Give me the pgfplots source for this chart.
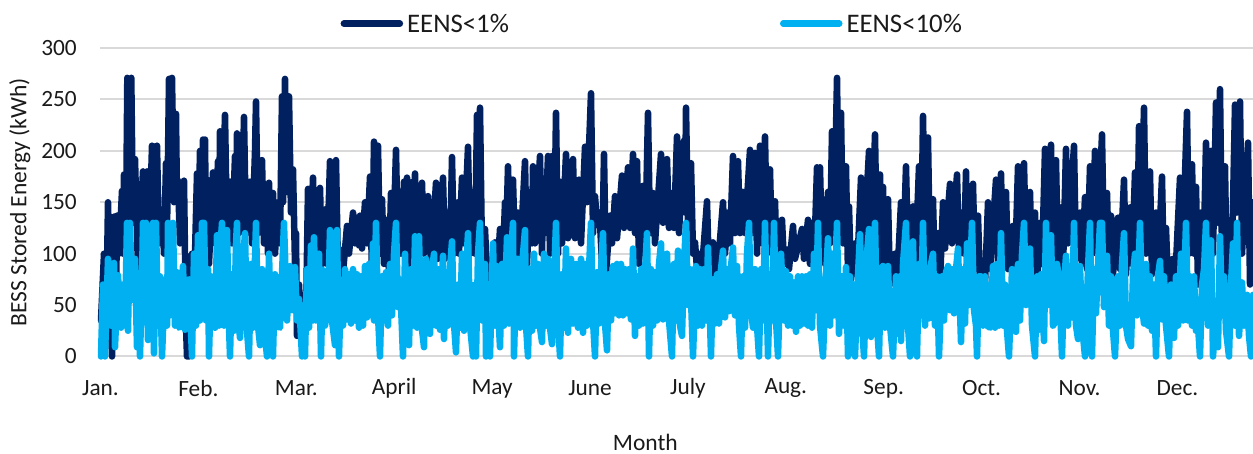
\documentclass[border=0pt]{standalone}
\usepackage{fontspec}
\setmainfont{Carlito}
\usepackage{pgfplots}
\pgfplotsset{compat=1.18}
\definecolor{navyline}{HTML}{002060}
\definecolor{skyline}{HTML}{00B0F0}
\definecolor{gridgray}{HTML}{D9D9D9}
\definecolor{labeltext}{HTML}{1A1A1A}

\begin{document}
\begin{tikzpicture}[x=1pt,y=1pt]
\useasboundingbox (0,0) rectangle (1253,454);
\begin{axis}[
    at={(100pt,97.5pt)}, anchor=south west,
    scale only axis, width=1153pt, height=308.5pt,
    clip=false,
    xmin=-1, xmax=1152, ymin=0, ymax=300,
    % x runs in steps of 1/97.9 of a month
    xtick={-0.5,97.4,195.3,293.2,391.1,489,586.9,684.8,782.7,880.6,978.5,1076.4},
    xticklabels={Jan.,Feb.,Mar.,April,May,June,July,Aug.,Sep.,Oct.,Nov.,Dec.},
    ytick={0,50,100,150,200,250,300},
    ymajorgrids=true,
    major grid style={line width=2pt,gridgray},
    axis line style={draw=none},
    major tick length=0pt,
    /pgf/number format/assume math mode=true,
    tick label style={font=\fontsize{23.3}{27}\selectfont,text=labeltext},
    xticklabel style={anchor=center,yshift=-32pt},
    yticklabel style={anchor=east,xshift=-23pt,inner sep=0pt},
    xlabel={Month},
    ylabel={BESS Stored Energy (kWh)},
    label style={font=\fontsize{23.5}{27}\selectfont,text=labeltext,inner sep=0pt},
    xlabel style={at={(axis description cs:0.473,-0.279)},anchor=center},
    ylabel style={at={(axis description cs:-0.0695,0.5)},anchor=center,rotate=0},
    legend columns=2,
    legend cell align=left,
    legend style={at={(axis description cs:0.479,1.079)},anchor=center,draw=none,fill=none,
        font=\fontsize{26.8}{30}\selectfont,text=labeltext,inner sep=0pt,
        /tikz/every even column/.append style={column sep=269pt}},
    legend image code/.code={\draw[line width=6.5pt,line cap=round,#1] (0pt,0pt)--(56pt,0pt);},
    every axis plot/.append style={line width=6.5pt,line join=round,line cap=round},
]
\addplot[navyline] coordinates {
(0,35)(3,100)(5,20)(7,150)(9,60)(11,0)(13,136)(15,50)(16,137)(18,100)(21,161)(22,100)(23,177)(25,120)
(26.3,271)(28,150)(30.3,271)(32,130)(34,192)(37,85)(42,180)(44,120)(46,180)(48,100)(51,205)(53,130)(56,205)(58,110)
(61,143)(63,100)(65,188)(66,120)(68,270)(70,180)(71,271)(73,150)(75,236)(76,150)(77,171)(79,110)(83,171)(85,30)(86,0)(88,0)
(91,100)(93,60)(96,178)(97,100)(99,200)(101,130)(102,211)(103,130)(104,211)(105,120)(106,172)(108,90)(112,179)(114,110)
(117,190)(118,120)(119,219)(121,120)(124,235)(126,120)(129,170)(131,110)(134,195)(135,120)(136,217)(138,120)(139,215)(141,140)
(143,233)(145,120)(149,170)(151,110)(154,200)(155,248)(157,120)(161,191)(163,110)(166,150)(167,100)(168,169)(170,110)(172,159)(174,100)
(177,150)(179,110)(181,253)(182,150)(184,270)(186,160)(188,253)(190,140)(192,182)(194,90)(195,120)(196,20)(198,70)(200,30)(203,60)(205,40)
(207,163)(209,90)(212,174)(214,100)(219,164)(221,90)(224,143)(226,90)(229,190)(231,100)(235,191)(237,85)(239,104)(241,70)
(246,127)(248,100)(252,140)(254,110)(256,135)(258,108)(259,137)(261,105)(264,150)(266,110)(269,175)(271,80)(273,209)(275,100)(277,205)(279,100)
(281,153)(283,90)(286,133)(288,80)(290,159)(292,100)(295,201)(297,100)(298,153)(300,100)(303,170)(304,100)(306,174)(308,90)(312,170)(313,100)(314,178)(316,100)
(321,169)(323,100)(327,156)(330,90)(335,169)(337,95)(342,174)(344,95)(347,140)(349,100)(351,194)(353,100)(357,150)(358,100)(361,174)(363,110)
(367,204)(369,100)(372,160)(374,100)(376,235)(378,120)(379,242)(381,100)(384,124)(387,59)(394,111)(396,75)(399,124)(401,70)(404,150)(405,110)(407,185)(409,110)
(412,172)(414,100)(417,140)(419,95)(424,190)(426,90)(429,160)(431,110)(432,185)(434,110)(439,195)(441,100)(442,150)(444,120)(447,195)(449,100)(451,195)(453,100)
(455,237)(457,100)(459,170)(461,110)(465,197)(467,115)(472,192)(474,115)(478,172)(480,110)(484,204)(486,150)(490,256)(492,120)(494,156)(496,130)(499,130)(501,90)
(503,197)(505,80)(509,137)(511,110)(514,156)(516,115)(521,176)(523,125)(527,184)(529,125)(532,197)(534,120)(536,190)(538,90)(542,166)(544,100)
(547,237)(549,120)(552,159)(554,110)(560,197)(562,130)(566,192)(568,125)(571,159)(573,125)(576,214)(578,120)(583,210)(584,140)(585,242)(587,130)
(590,188)(592,100)(594,111)(596,85)(599,100)(601,85)(606,151)(608,80)(612,111)(615,65)(622,150)(624,100)(627,140)(629,110)(632,195)(634,120)
(637,190)(639,120)(642,160)(644,120)(649,201)(651,120)(654,198)(656,100)(659,205)(661,110)(664,214)(666,110)(669,182)(671,100)(674,151)(676,85)
(681,133)(683,90)(686,104)(688,85)(692,127)(694,95)(701,124)(703,95)(707,133)(709,90)(711,130)(713,90)(716,184)(718,100)(719,184)(721,100)
(722,153)(724,90)(727,160)(729,110)(731,219)(733,120)(736,271)(738,120)(740,237)(742,110)(745,185)(747,80)(748,146)(750,75)(754,110)(756,80)
(760,174)(762,90)(768,200)(770,90)(774,216)(776,100)(779,177)(781,90)(782,165)(784,90)(787,153)(789,70)(794,100)(796,70)(800,150)(802,90)
(805,185)(807,100)(812,146)(814,80)(818,185)(820,90)(822,234)(824,110)(827,213)(829,90)(832,153)(834,70)(837,120)(839,70)(842,150)(844,105)
(849,168)(851,110)(856,177)(858,100)(861,140)(863,100)(865,180)(867,85)(872,168)(874,85)(877,137)(879,70)(882,91)(884,70)(887,150)(889,85)
(895,172)(897,90)(900,178)(902,90)(905,160)(907,85)(912,127)(914,85)(917,185)(919,90)(923,188)(925,100)(929,160)(931,85)(934,140)(936,65)(939,130)(941,90)
(944,202)(946,110)(950,206)(952,100)(955,191)(957,90)(960,145)(962,85)(965,202)(967,110)(973,205)(975,95)(979,140)(981,90)(984,155)(986,85)
(989,185)(991,100)(994,200)(996,100)(1001,216)(1003,100)(1006,159)(1008,85)(1010,137)(1012,80)(1017,135)(1019,85)(1023,172)(1025,80)(1029,145)(1031,90)
(1034,179)(1036,90)(1038,224)(1040,120)(1043,242)(1045,100)(1049,180)(1051,80)(1055,140)(1057,85)(1061,175)(1063,70)(1065,125)(1067,70)(1072,95)(1074,70)
(1079,174)(1081,85)(1086,238)(1088,100)(1091,187)(1093,100)(1095,165)(1097,70)(1100,140)(1102,70)(1105,208)(1107,90)(1110,200)(1112,100)(1115,247)(1117,130)
(1119,260)(1121,100)(1124,185)(1126,60)(1129,55)(1131,100)(1134,245)(1136,140)(1139,248)(1141,100)(1147,208)(1149,70)(1152,150)
};
\addlegendentry{\hspace{2pt}EENS<1\%}
\addplot[skyline] coordinates {
(0,0)(2,70)(4,0)(7,95)(10,30)(13,91)(14,9)(17,79)(20,28)(22,70)(24,30)(26,130)(27,25)(29,130)(31,55)(34,95)(36,9)(38,70)(39,0)(41,75)
(42,130)(44,45)(45,130)(47,16)(49,80)(51,30)(52,130)(53,3)(55,130)(57,30)(59,78)(61,0)(64,75)(66,30)(67,130)(69,40)(72,130)(74,30)(76,82)(78,28)(80,30)(82,88)(84,26)(86,70)(88,75)
(91,0)(93,100)(95,30)(97,118)(99,35)(101,130)(103,130)(105,35)(107,85)(108,0)(110,78)(112,30)(114,28)(116,118)(118,30)(119,100)(121,130)(123,30)(126,123)(128,30)(129,0)(131,80)(133,25)
(135,110)(136,130)(138,30)(139,18)(141,80)(144,120)(146,25)(148,0)(150,90)(152,28)(155,130)(157,30)(159,11)(161,85)(163,30)(166,0)(168,100)(170,30)(172,0)(174,80)(176,30)(179,28)(181,80)(183,130)(186,35)
(189,88)(191,45)(194,87)(196,35)(198,56)(201,0)(203,50)(204,0)(206,85)(208,28)(210,108)(212,35)(213,116)(215,35)(218,100)(220,0)(222,84)(224,30)(227,48)(229,123)(231,35)
(234,11)(236,123)(238,0)(240,70)(242,30)(244,85)(246,36)(248,80)(250,32)(252,85)(254,35)(256,80)(258,28)(260,78)(262,30)(264,88)(266,38)(268,90)(270,40)(272,110)(273,35)(275,130)(277,40)(279,0)
(281,78)(283,35)(285,82)(287,30)(289,90)(291,40)(293,100)(295,130)(297,48)(299,75)(302,0)(304,100)(306,20)(308,11)(310,85)(312,30)(314,117)(316,28)(318,117)(320,35)(323,9)(325,95)(327,30)(329,22)
(331,85)(333,100)(335,30)(337,85)(339,26)(342,98)(343,17)(345,80)(347,30)(349,85)(351,112)(353,32)(355,4)(357,70)(359,28)(361,100)(363,25)(365,85)(367,120)(369,30)(372,0)(374,70)(375,0)(377,100)
(379,130)(381,35)(384,90)(385,0)(387,70)(389,0)(392,110)(394,30)(396,88)(398,28)(399,9)(401,90)(403,30)(406,116)(408,32)(410,100)(412,130)(413,0)(415,78)(417,95)(419,28)(421,88)(424,123)(425,30)(427,0)
(429,85)(431,25)(433,100)(435,30)(437,90)(439,28)(441,14)(443,100)(445,30)(447,95)(449,28)(451,12)(453,75)(455,130)(457,35)(459,0)(461,80)(463,28)(465,105)(467,23)(470,95)(472,32)(475,90)(477,28)
(480,95)(482,23)(484,90)(486,30)(488,85)(490,130)(492,35)(494,0)(496,82)(498,32)(500,85)(502,120)(504,32)(506,6)(508,80)(510,35)(512,88)(514,42)(516,90)(518,40)(520,90)(522,40)(524,85)(526,42)(528,85)(530,36)
(532,105)(534,20)(536,78)(538,30)(540,85)(542,32)(544,82)(546,120)(548,0)(550,85)(552,30)(554,82)(556,35)(558,90)(560,110)(562,36)(564,85)(566,100)(568,35)(571,0)(573,90)(575,35)(577,103)(579,30)(581,20)
(583,90)(585,130)(587,50)(589,85)(592,0)(595,88)(597,30)(599,85)(601,30)(603,85)(605,35)(607,106)(610,0)(612,75)(614,32)(616,80)(618,32)(620,85)(622,103)(624,38)(626,85)(628,44)(630,88)(632,106)(634,40)(636,88)(638,30)
(640,0)(642,78)(644,28)(646,100)(648,130)(650,45)(652,28)(654,85)(656,30)(658,0)(660,85)(662,35)(664,130)(667,0)(669,80)(671,35)(673,130)(675,35)(677,0)(680,100)(683,35)(685,83)(687,30)(689,78)(691,30)(693,72)(695,24)
(697,78)(699,30)(701,78)(703,32)(705,78)(707,30)(709,80)(711,28)(713,100)(715,45)(717,130)(719,30)(722,0)(725,78)(727,115)(729,30)(731,100)(733,40)(736,130)(738,22)(741,78)(743,30)(745,87)(747,0)(749,78)(751,20)(753,70)(754,0)
(757,80)(759,119)(761,30)(763,0)(766,100)(768,124)(770,19)(772,90)(774,130)(776,30)(778,0)(780,85)(782,88)(784,28)(787,88)(789,30)(792,0)(795,78)(797,22)(799,78)(800,15)(802,90)(805,130)(807,30)(809,0)(812,112)(814,30)(816,0)
(818,90)(820,40)(822,130)(824,30)(826,85)(828,37)(830,90)(832,100)(834,30)(836,78)(838,0)(841,78)(843,35)(845,82)(847,88)(849,45)(851,85)(853,42)(855,85)(857,105)(860,14)(862,85)(864,32)(866,110)(868,50)(871,130)(873,45)(875,30)(876,0)
(878,78)(880,78)(882,30)(884,78)(886,30)(889,28)(892,88)(894,28)(896,90)(898,30)(900,120)(902,30)(904,70)(906,25)(908,0)(911,85)(913,30)(915,24)(917,90)(919,35)(921,100)(923,130)(925,50)(927,90)(929,105)(931,30)(934,0)
(936,78)(938,26)(940,80)(943,15)(945,130)(947,50)(950,118)(952,30)(954,33)(956,90)(958,75)(961,0)(963,70)(965,98)(967,30)(969,88)(971,38)(973,130)(975,30)(977,17)(979,88)(981,30)(984,0)(987,85)(989,130)(991,0)(993,85)(995,42)(997,90)
(999,130)(1001,130)(1003,48)(1006,98)(1008,30)(1010,78)(1012,25)(1014,0)(1017,78)(1019,30)(1021,90)(1023,120)(1025,30)(1027,17)(1030,10)(1032,80)(1034,100)(1036,40)(1039,130)(1041,50)(1043,32)(1045,90)(1047,30)(1049,78)(1051,25)(1053,70)
(1055,0)(1057,78)(1059,93)(1061,36)(1063,78)(1065,30)(1068,0)(1070,70)(1073,18)(1075,78)(1077,30)(1080,100)(1082,35)(1085,130)(1087,35)(1089,78)(1091,30)(1093,78)(1095,25)(1097,30)(1099,0)(1101,70)(1103,85)(1105,130)(1107,30)(1110,113)
(1112,0)(1115,40)(1117,9)(1119,117)(1121,40)(1123,78)(1125,25)(1128,0)(1130,70)(1132,110)(1134,30)(1136,130)(1138,20)(1141,72)(1143,30)(1146,60)(1148,20)(1150,0)(1152,60)
};
\addlegendentry{\hspace{2pt}EENS<10\%}
\end{axis}
\end{tikzpicture}
\end{document}
